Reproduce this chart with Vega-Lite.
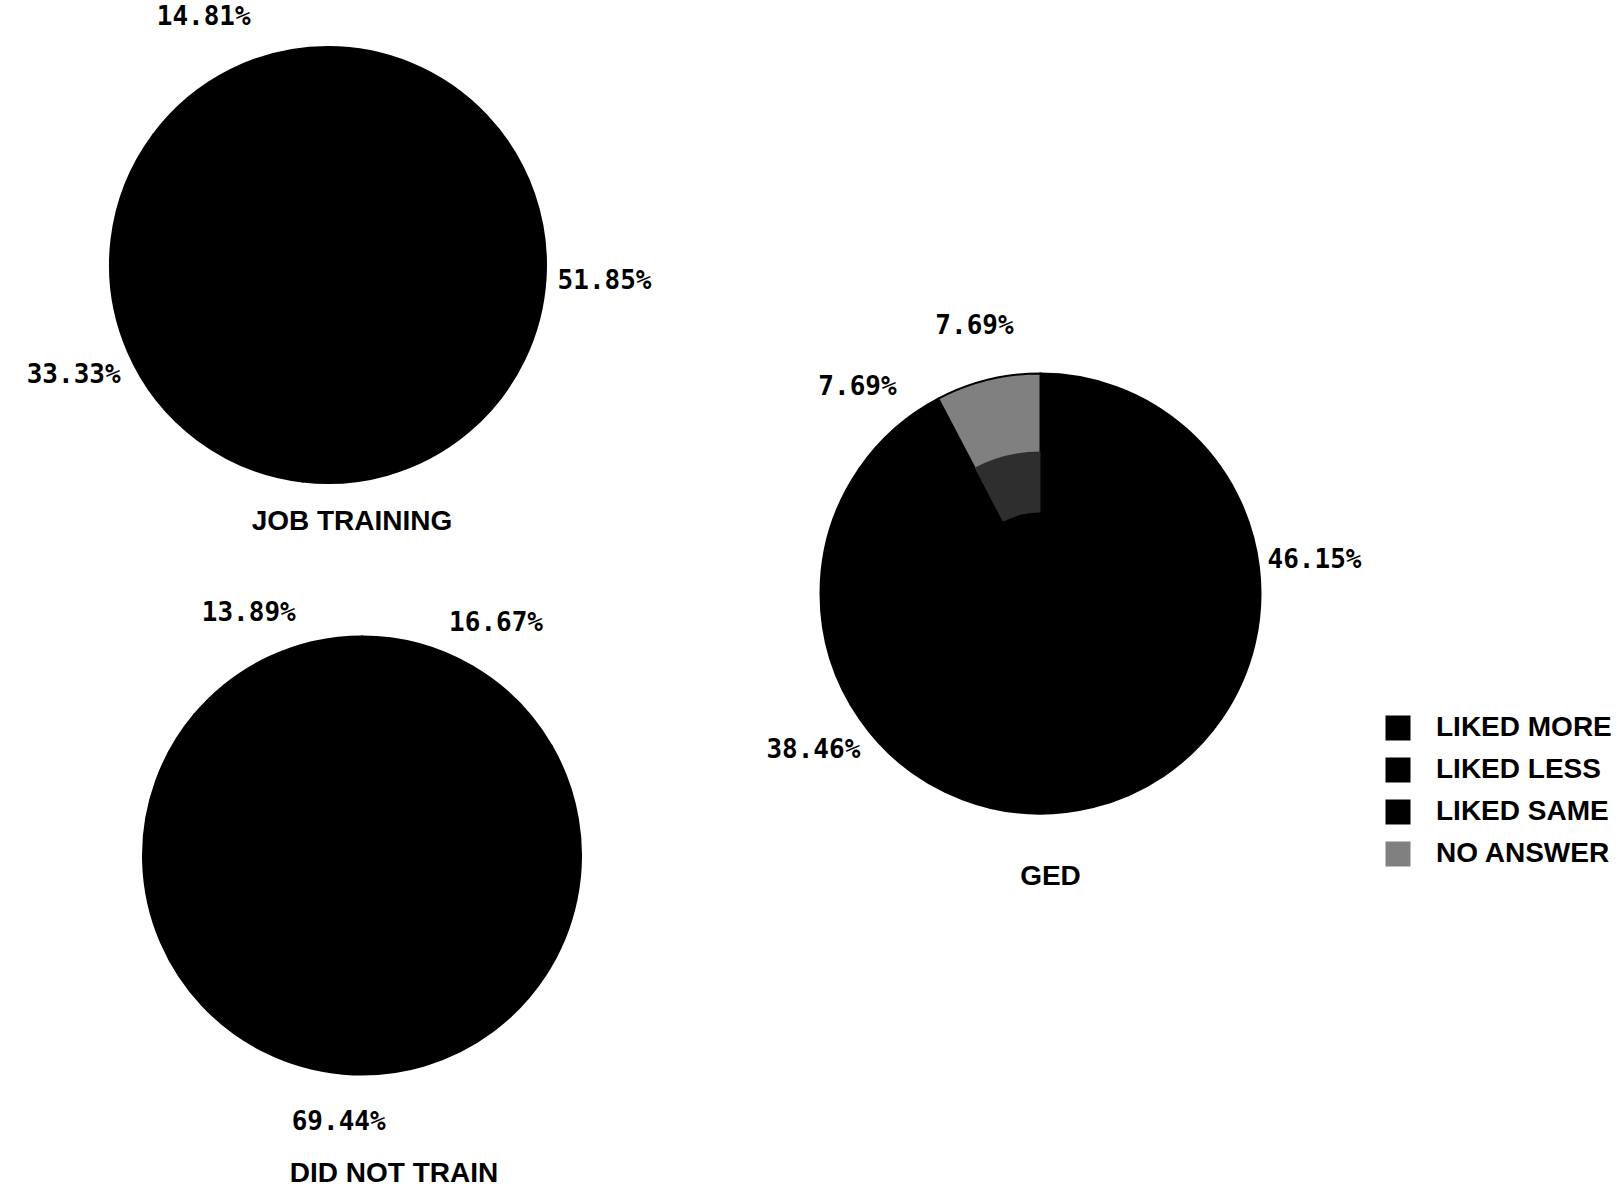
{
  "$schema": "https://vega.github.io/schema/vega-lite/v6.json",
  "padding": 0,
  "background": "white",
  "config": {
    "view": {"stroke": null},
    "legend": {"titleFont": "Liberation Sans"}
  },
  "datasets": {
    "jt": [
      {"chart": "JOB TRAINING", "category": "LIKED MORE", "k": 1, "share": 0.5185},
      {"chart": "JOB TRAINING", "category": "LIKED LESS", "k": 2, "share": 0.3333},
      {"chart": "JOB TRAINING", "category": "LIKED SAME", "k": 3, "share": 0.1481}
    ],
    "dnt": [
      {"chart": "DID NOT TRAIN", "category": "LIKED MORE", "k": 1, "share": 0.1667},
      {"chart": "DID NOT TRAIN", "category": "LIKED LESS", "k": 2, "share": 0.6944},
      {"chart": "DID NOT TRAIN", "category": "LIKED SAME", "k": 3, "share": 0.1389}
    ],
    "ged": [
      {"chart": "GED", "category": "LIKED MORE", "k": 1, "share": 0.4615},
      {"chart": "GED", "category": "LIKED LESS", "k": 2, "share": 0.3846},
      {"chart": "GED", "category": "LIKED SAME", "k": 3, "share": 0.0769},
      {"chart": "GED", "category": "NO ANSWER", "k": 4, "share": 0.0769}
    ]
  },
  "spacing": 0,
  "hconcat": [
    {
      "spacing": 0,
      "vconcat": [
        {
          "width": 656,
          "height": 530,
          "data": {"name": "jt"},
          "title": {"text": "JOB TRAINING", "orient": "bottom", "frame": "group", "anchor": "middle", "offset": -22, "dx": 24, "font": "Liberation Sans", "fontSize": 28, "fontWeight": "bold", "color": "black"},
          "layer": [
            {
              "mark": {"type": "arc", "radius": 218, "radius2": 0, "stroke": "black", "strokeWidth": 2},
              "encoding": {
                "theta": {"field": "share", "type": "quantitative", "stack": true},
                "order": {"field": "k", "type": "quantitative"},
                "color": {"field": "category", "type": "nominal",
                  "scale": {"domain": ["LIKED MORE", "LIKED LESS", "LIKED SAME", "NO ANSWER"], "range": ["#000000", "#000000", "#000000", "#808080"]},
                  "legend": {"title": null, "orient": "none", "legendX": 1384, "legendY": 714, "symbolType": "square", "symbolSize": 625, "symbolStrokeWidth": 0, "labelFont": "Liberation Sans", "labelFontSize": 28, "labelFontWeight": "bold", "labelColor": "black", "labelOffset": 24, "labelLimit": 0, "rowPadding": 14}}
              }
            },
            {
              "mark": {"type": "text", "radius": 277, "font": "DejaVu Sans Mono", "fontSize": 26, "fontWeight": "bold", "color": "black"},
              "encoding": {
                "theta": {"field": "share", "type": "quantitative", "stack": true},
                "order": {"field": "k", "type": "quantitative"},
                "text": {"field": "share", "type": "quantitative", "format": ".2%"}
              }
            }
          ]
        },
        {
          "width": 724,
          "height": 639,
          "data": {"name": "dnt"},
          "title": {"text": "DID NOT TRAIN", "orient": "bottom", "frame": "group", "anchor": "middle", "offset": -15, "dx": 32, "font": "Liberation Sans", "fontSize": 28, "fontWeight": "bold", "color": "black"},
          "layer": [
            {
              "mark": {"type": "arc", "radius": 219, "radius2": 0, "stroke": "black", "strokeWidth": 2},
              "encoding": {
                "theta": {"field": "share", "type": "quantitative", "stack": true},
                "order": {"field": "k", "type": "quantitative"},
                "color": {"field": "category", "type": "nominal",
                  "scale": {"domain": ["LIKED MORE", "LIKED LESS", "LIKED SAME", "NO ANSWER"], "range": ["#000000", "#000000", "#000000", "#808080"]},
                  "legend": {"title": null, "orient": "none", "legendX": 1384, "legendY": 714, "symbolType": "square", "symbolSize": 625, "symbolStrokeWidth": 0, "labelFont": "Liberation Sans", "labelFontSize": 28, "labelFontWeight": "bold", "labelColor": "black", "labelOffset": 24, "labelLimit": 0, "rowPadding": 14}}
              }
            },
            {
              "mark": {"type": "text", "radius": 268, "font": "DejaVu Sans Mono", "fontSize": 26, "fontWeight": "bold", "color": "black"},
              "encoding": {
                "theta": {"field": "share", "type": "quantitative", "stack": true},
                "order": {"field": "k", "type": "quantitative"},
                "text": {"field": "share", "type": "quantitative", "format": ".2%"}
              }
            }
          ]
        }
      ]
    },
    {
      "width": 633,
      "height": 1187,
      "data": {"name": "ged"},
      "title": {"text": "GED", "orient": "bottom", "frame": "group", "anchor": "middle", "offset": -324, "dx": 10, "font": "Liberation Sans", "fontSize": 28, "fontWeight": "bold", "color": "black"},
      "layer": [
        {
          "mark": {"type": "arc", "radius": 220, "radius2": 0, "stroke": "black", "strokeWidth": 2},
          "encoding": {
            "theta": {"field": "share", "type": "quantitative", "stack": true},
            "order": {"field": "k", "type": "quantitative"},
            "color": {"field": "category", "type": "nominal",
              "scale": {"domain": ["LIKED MORE", "LIKED LESS", "LIKED SAME", "NO ANSWER"], "range": ["#000000", "#000000", "#000000", "#808080"]},
              "legend": {"title": null, "orient": "none", "legendX": 1384, "legendY": 714, "symbolType": "square", "symbolSize": 625, "symbolStrokeWidth": 0, "labelFont": "Liberation Sans", "labelFontSize": 28, "labelFontWeight": "bold", "labelColor": "black", "labelOffset": 24, "labelLimit": 0, "rowPadding": 14}}
          }
        },
        {
          "mark": {"type": "arc", "radius": 142, "radius2": 0},
          "encoding": {
            "theta": {"field": "share", "type": "quantitative", "stack": true},
            "order": {"field": "k", "type": "quantitative"},
            "fill": {"condition": {"test": "datum.category === 'NO ANSWER'", "value": "#2e2e2e"}, "value": "#000000"}
          }
        },
        {
          "mark": {"type": "arc", "radius": 80, "radius2": 0, "fill": "#000000", "stroke": "black", "strokeWidth": 2},
          "encoding": {
            "theta": {"field": "share", "type": "quantitative", "stack": true},
            "order": {"field": "k", "type": "quantitative"}
          }
        },
        {
          "mark": {"type": "text", "radius": 276, "font": "DejaVu Sans Mono", "fontSize": 26, "fontWeight": "bold", "color": "black"},
          "encoding": {
            "theta": {"field": "share", "type": "quantitative", "stack": true},
            "order": {"field": "k", "type": "quantitative"},
            "text": {"field": "share", "type": "quantitative", "format": ".2%"}
          }
        }
      ]
    }
  ]
}
